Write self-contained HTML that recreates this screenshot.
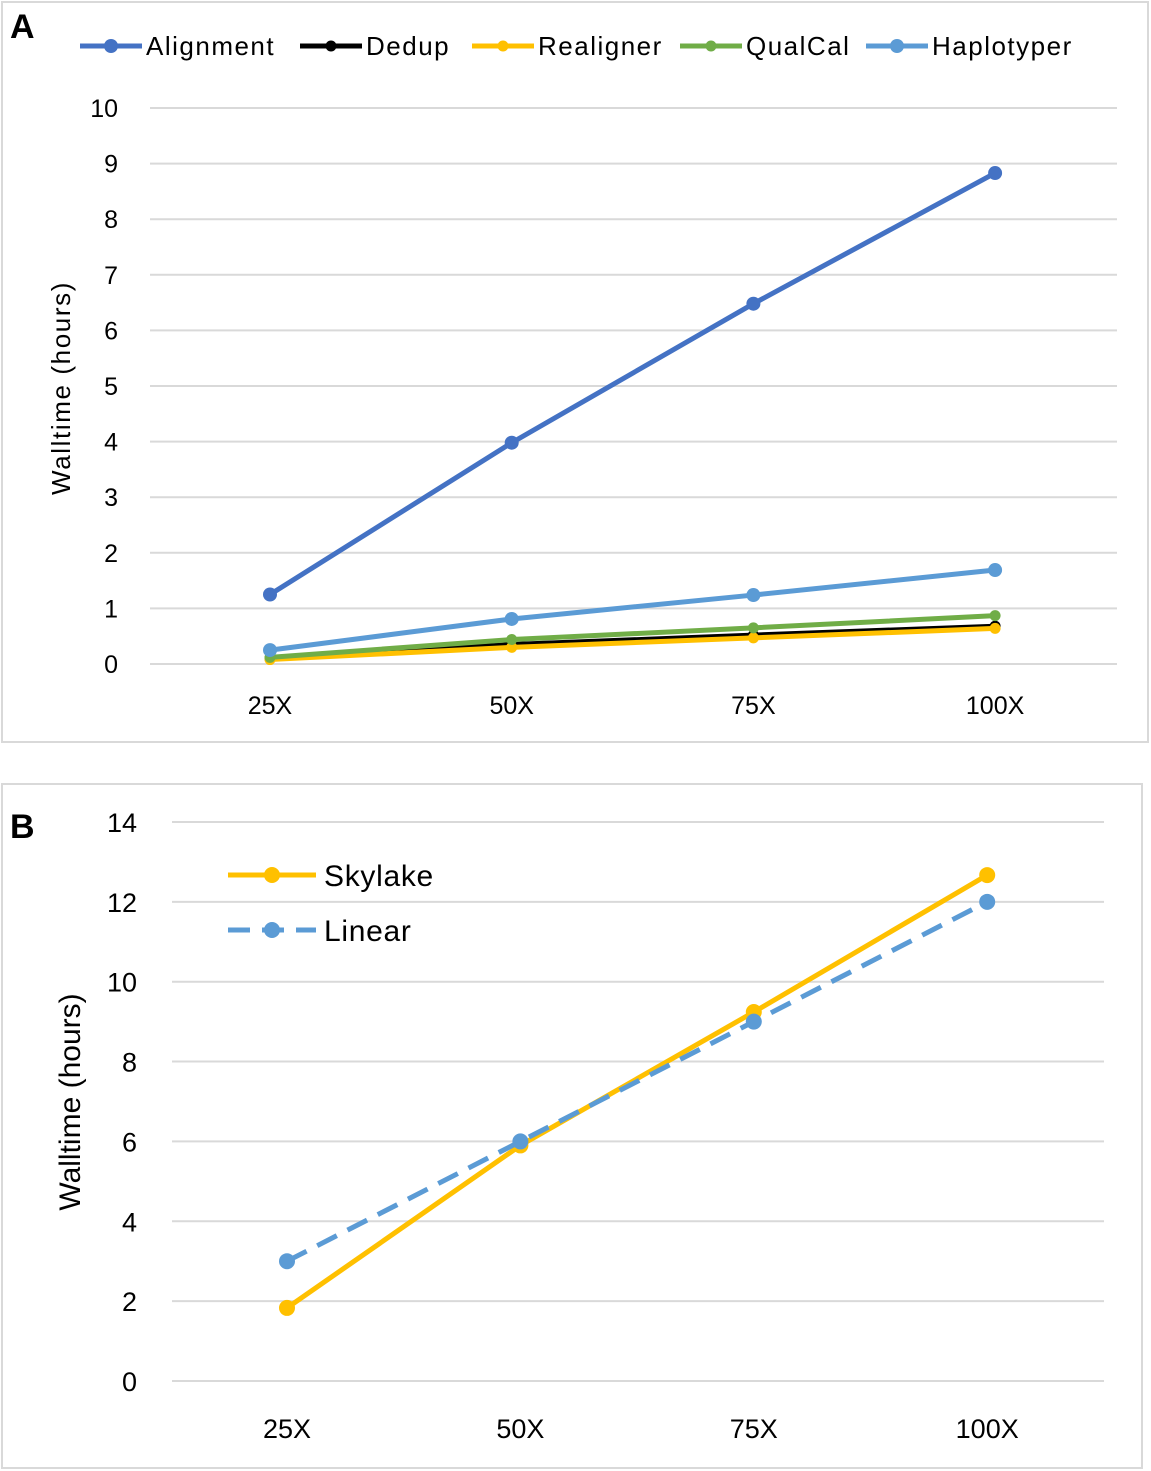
<!DOCTYPE html>
<html><head><meta charset="utf-8"><style>
body{margin:0;background:#fff;font-family:"Liberation Sans",sans-serif}
svg{display:block}
text{font-family:"Liberation Sans",sans-serif;fill:#000}
</style></head><body>
<svg id="s" width="1151" height="1471">
<rect x="2" y="2" width="1146" height="740" fill="#fff" stroke="#d9d9d9" stroke-width="2"/>
<rect x="2" y="784" width="1140" height="684" fill="#fff" stroke="#d9d9d9" stroke-width="2"/>
<text x="10" y="38" font-size="34" font-weight="bold">A</text>
<text x="10" y="838" font-size="34" font-weight="bold">B</text>
<g id="ga"></g><g id="gb"></g>
</svg>
<script>
const NS="http://www.w3.org/2000/svg";
const cats=["25X","50X","75X","100X"];
const alignment=[1.25,3.98,6.48,8.83];
const dedup=[0.10,0.35,0.52,0.68];
const realigner=[0.08,0.30,0.47,0.64];
const qualcal=[0.12,0.44,0.65,0.87];
const haplotyper=[0.25,0.81,1.24,1.69];
const ticksA=[0,1,2,3,4,5,6,7,8,9,10];
const skylake=[1.83,5.9,9.24,12.67];
const linear=[3,6,9,12];
const ticksB=[0,2,4,6,8,10,12,14];
function mk(p,t,a){const e=document.createElementNS(NS,t);for(const k in a)e.setAttribute(k,a[k]);p.appendChild(e);return e;}
// Panel A
const ga=document.getElementById('ga');
const xA=i=>270+i*241.7, yA=v=>664-v*55.6;
ticksA.forEach(t=>{
 const l=mk(ga,'line',{x1:150,x2:1117,y1:yA(t),y2:yA(t),stroke:'#d9d9d9','stroke-width':2});
 
 
 const tx=mk(ga,'text',{x:118,y:yA(t)+9,'font-size':25,'text-anchor':'end'});tx.textContent=t;
 
 
});
cats.forEach((c,i)=>{const tx=mk(ga,'text',{x:xA(i),y:714,'font-size':25,'text-anchor':'middle'});tx.textContent=c;
 
 });
const yt=mk(ga,'text',{x:0,y:0,'font-size':26,'letter-spacing':'1.6','text-anchor':'middle',transform:'translate(70,388) rotate(-90)'});yt.textContent='Walltime (hours)';


const seriesA=[["Alignment",alignment,"#4472c4",7],["Dedup",dedup,"#000",5.5],["Realigner",realigner,"#ffc000",5.5],["QualCal",qualcal,"#70ad47",5.5],["Haplotyper",haplotyper,"#5b9bd5",7]];
[1,2,3,4,0].forEach(k=>{const [n,d,c,r]=seriesA[k];
 const pl=mk(ga,'polyline',{points:d.map((v,i)=>xA(i)+','+yA(v)).join(' '),fill:'none',stroke:c,'stroke-width':5});
 
 
 d.forEach((v,i)=>{const m=mk(ga,'circle',{cx:xA(i),cy:yA(v),r:r,fill:c});
 
 });
});
const legX=[80,300,472,680,866];
seriesA.forEach(([n,d,c,r],k)=>{const g=mk(ga,'g',{});
 
 
 mk(g,'line',{x1:legX[k],x2:legX[k]+62,y1:46,y2:46,stroke:c,'stroke-width':5});
 mk(g,'circle',{cx:legX[k]+31,cy:46,r:r,fill:c});
 const t=mk(g,'text',{x:legX[k]+66,y:55,'font-size':26,'letter-spacing':'1.5'});t.textContent=n;});
// Panel B
const gb=document.getElementById('gb');
const xB=i=>287+i*233.4, yB=v=>1381-v*39.93;
ticksB.forEach(t=>{
 const l=mk(gb,'line',{x1:172,x2:1104,y1:yB(t),y2:yB(t),stroke:'#d9d9d9','stroke-width':2});
 
 
 const tx=mk(gb,'text',{x:137,y:yB(t)+10,'font-size':27,'text-anchor':'end'});tx.textContent=t;
 
 
});
cats.forEach((c,i)=>{const tx=mk(gb,'text',{x:xB(i),y:1438,'font-size':27,'text-anchor':'middle'});tx.textContent=c;
 
 });
const yt2=mk(gb,'text',{x:0,y:0,'font-size':30,'text-anchor':'middle',transform:'translate(80,1102) rotate(-90)'});yt2.textContent='Walltime (hours)';


const sk=mk(gb,'polyline',{points:skylake.map((v,i)=>xB(i)+','+yB(v)).join(' '),fill:'none',stroke:'#ffc000','stroke-width':5});


skylake.forEach((v,i)=>{const m=mk(gb,'circle',{cx:xB(i),cy:yB(v),r:8,fill:'#ffc000'});
 
 });
const ln=mk(gb,'polyline',{points:linear.map((v,i)=>xB(i)+','+yB(v)).join(' '),fill:'none',stroke:'#5b9bd5','stroke-width':5,'stroke-dasharray':'22 12'});


linear.forEach((v,i)=>{const m=mk(gb,'circle',{cx:xB(i),cy:yB(v),r:8,fill:'#5b9bd5'});
 
 });
const l1=mk(gb,'g',{});


mk(l1,'line',{x1:228,x2:316,y1:875,y2:875,stroke:'#ffc000','stroke-width':5});
mk(l1,'circle',{cx:272,cy:875,r:8,fill:'#ffc000'});
let t1=mk(l1,'text',{x:324,y:886,'font-size':30,'letter-spacing':'0.7'});t1.textContent='Skylake';
const l2=mk(gb,'g',{});


mk(l2,'line',{x1:228,x2:316,y1:930,y2:930,stroke:'#5b9bd5','stroke-width':5,'stroke-dasharray':'22 12'});
mk(l2,'circle',{cx:272,cy:930,r:8,fill:'#5b9bd5'});
let t2=mk(l2,'text',{x:324,y:941,'font-size':30,'letter-spacing':'0.7'});t2.textContent='Linear';
</script>
</body></html>
